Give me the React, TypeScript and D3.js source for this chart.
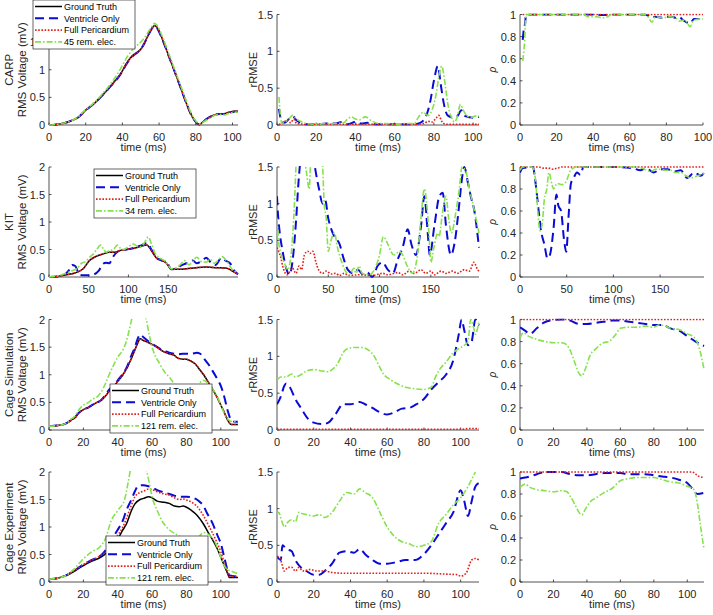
import React from "react";
import * as d3 from "d3";

type Pt = [number, number];

// ---------- Row 1: CARP ----------
const carpRmsGT: Pt[] = [[0,0],[3,0.005],[6,0.02],[10,0.05],[13,0.09],[16,0.14],[18,0.2],[20,0.27],[22,0.32],[25,0.4],[28,0.5],[30,0.57],[33,0.68],[36,0.8],[38,0.88],[40,0.98],[42,1.1],[44,1.2],[46,1.27],[48,1.31],[50,1.37],[52,1.48],[54,1.62],[56,1.75],[57.5,1.8],[59,1.76],[61,1.62],[63,1.45],[65,1.27],[67,1.1],[69,0.92],[71,0.74],[73,0.56],[75,0.38],[77,0.22],[79,0.1],[81,0.02],[82,0.01],[84,0.06],[86,0.11],[88,0.15],[90,0.18],[93,0.2],[95,0.2],[98,0.23],[101,0.25],[103,0.25]];
const carpRmsVO: Pt[] = [[0,0],[3,0.005],[6,0.02],[10,0.05],[13,0.09],[16,0.14],[18,0.2],[20,0.27],[22,0.32],[25,0.4],[28,0.5],[30,0.57],[33,0.68],[36,0.79],[38,0.87],[40,0.97],[42,1.09],[44,1.19],[46,1.26],[48,1.31],[50,1.37],[52,1.48],[54,1.62],[56,1.74],[57.5,1.79],[59,1.75],[61,1.61],[63,1.45],[65,1.27],[67,1.1],[69,0.92],[71,0.74],[73,0.56],[75,0.38],[77,0.22],[79,0.1],[81,0.02],[82,0.01],[84,0.06],[86,0.11],[88,0.15],[90,0.18],[93,0.2],[95,0.2],[98,0.22],[101,0.24],[103,0.24]];
const carpRmsFP: Pt[] = [[0,0],[3,0.005],[6,0.02],[10,0.05],[13,0.09],[16,0.14],[18,0.2],[20,0.27],[22,0.32],[25,0.4],[28,0.5],[30,0.57],[33,0.68],[36,0.8],[38,0.88],[40,0.98],[42,1.1],[44,1.2],[46,1.27],[48,1.31],[50,1.37],[52,1.48],[54,1.62],[56,1.75],[57.5,1.8],[59,1.76],[61,1.62],[63,1.45],[65,1.27],[67,1.1],[69,0.92],[71,0.74],[73,0.56],[75,0.38],[77,0.22],[79,0.1],[81,0.02],[82,0.01],[84,0.06],[86,0.11],[88,0.15],[90,0.18],[93,0.2],[95,0.2],[98,0.23],[101,0.25],[103,0.25]];
const carpRmsRem: Pt[] = [[0,0],[3,0.005],[6,0.02],[10,0.05],[13,0.09],[16,0.15],[18,0.22],[20,0.28],[22,0.33],[25,0.42],[28,0.52],[30,0.6],[33,0.72],[36,0.86],[38,0.96],[40,1.08],[42,1.2],[44,1.3],[46,1.38],[48,1.44],[50,1.5],[52,1.58],[54,1.68],[56,1.78],[57.5,1.84],[59,1.8],[61,1.66],[63,1.5],[65,1.32],[67,1.14],[69,0.96],[71,0.78],[73,0.6],[75,0.42],[77,0.25],[79,0.12],[81,0.04],[82,0.02],[84,0.05],[86,0.09],[88,0.13],[90,0.17],[93,0.19],[95,0.18],[98,0.21],[101,0.23],[103,0.23]];

const carpRmseVO: Pt[] = [[1,0.22],[2.5,0.04],[4,0.03],[6,0.08],[8,0.12],[10,0.06],[12,0.03],[15,0.01],[20,0.01],[25,0.02],[30,0.02],[33,0.04],[36,0.01],[40,0.04],[43,0.02],[46,0.03],[50,0.01],[60,0.01],[70,0.01],[73,0.03],[76,0.12],[78,0.3],[80,0.6],[82,0.8],[83.5,0.55],[85,0.3],[87,0.13],[90,0.1],[92,0.12],[94,0.2],[96,0.12],[100,0.1],[103,0.11]];
const carpRmseFP: Pt[] = [[1,0.01],[3,0.02],[5,0.07],[7,0.03],[8.5,0.08],[10,0.02],[15,0.01],[30,0.01],[50,0.01],[70,0.01],[75,0.02],[77,0.05],[79,0.04],[81,0.09],[82.5,0.13],[84,0.05],[86,0.01],[100,0.01],[103,0.01]];
const carpRmseRem: Pt[] = [[1,0.38],[2.5,0.02],[4,0.04],[6,0.08],[8,0.13],[10,0.08],[12,0.05],[15,0.02],[20,0.01],[25,0.02],[30,0.02],[34,0.03],[36,0.08],[38,0.11],[40,0.08],[42,0.07],[45,0.11],[48,0.06],[52,0.02],[56,0.02],[60,0.01],[65,0.02],[70,0.02],[72,0.1],[74.5,0.17],[77,0.13],[79,0.2],[81,0.4],[82.5,0.65],[84,0.8],[85.5,0.6],[87,0.3],[89,0.1],[90.5,0.04],[92,0.12],[93.5,0.28],[95,0.2],[97,0.12],[99,0.1],[101,0.12],[103,0.12]];

const carpRhoVO: Pt[] = [[1.5,0.77],[2.2,0.88],[2.8,0.92],[3.3,1],[35,1],[40,1],[45,0.995],[50,1],[68,1],[70,0.99],[72,0.97],[74,0.98],[78,0.97],[80,0.98],[83,0.98],[85,0.97],[87,0.98],[89,0.95],[91,0.93],[93,0.92],[95,0.96],[100,0.96]];
const carpRhoFP: Pt[] = [[1.5,1],[50,1],[100,1]];
const carpRhoRem: Pt[] = [[1.5,0.58],[2.5,0.75],[3.3,1],[35,1],[37,0.98],[42,0.98],[45,0.97],[48,0.98],[50,1],[68,1],[70,0.98],[72,0.93],[74,0.98],[78,0.97],[82,0.98],[85,0.97],[87,0.94],[90,0.95],[93,0.89],[95,0.95],[100,0.96]];

// ---------- Row 2: KIT ----------
const kitRmsGT: Pt[] = [[0,0],[11,0.01],[22,0.04],[34,0.08],[43,0.15],[51,0.3],[60,0.38],[68,0.42],[76,0.45],[83,0.45],[89,0.48],[97,0.5],[106,0.52],[114,0.55],[123,0.58],[129,0.48],[135,0.35],[142,0.3],[148,0.25],[154,0.14],[165,0.14],[173,0.15],[186,0.17],[198,0.18],[211,0.17],[224,0.16],[232,0.1],[238,0.05]];
const kitRmsVO: Pt[] = [[0,0],[11,0.01],[20,0.05],[25,0.12],[29,0.22],[33,0.2],[37,0.08],[42,0.03],[50,0.03],[57,0.05],[63,0.12],[68,0.24],[72,0.26],[76,0.25],[80,0.35],[84,0.43],[89,0.48],[97,0.5],[104,0.52],[110,0.55],[117,0.58],[123,0.62],[129,0.5],[135,0.35],[142,0.3],[148,0.28],[154,0.14],[160,0.16],[165,0.2],[173,0.25],[181,0.3],[186,0.25],[193,0.3],[198,0.35],[204,0.26],[210,0.22],[217,0.35],[222,0.3],[228,0.25],[233,0.12],[238,0.05]];
const kitRmsFP: Pt[] = [[0,0],[11,0.01],[22,0.04],[34,0.08],[43,0.15],[51,0.3],[60,0.38],[68,0.42],[76,0.45],[83,0.45],[89,0.48],[97,0.5],[106,0.52],[114,0.55],[123,0.58],[129,0.48],[135,0.35],[142,0.3],[148,0.25],[154,0.14],[165,0.14],[173,0.15],[186,0.17],[198,0.18],[211,0.17],[224,0.16],[232,0.1],[238,0.05]];
const kitRmsRem: Pt[] = [[0,0],[11,0.02],[22,0.07],[30,0.12],[35,0.15],[41,0.25],[46,0.28],[51,0.36],[56,0.42],[60,0.5],[65,0.58],[69,0.5],[72,0.45],[76,0.48],[81,0.5],[86,0.58],[90,0.52],[94,0.5],[100,0.55],[106,0.6],[110,0.57],[115,0.55],[120,0.62],[125,0.73],[129,0.6],[133,0.45],[139,0.35],[145,0.3],[150,0.22],[154,0.15],[160,0.17],[165,0.22],[171,0.3],[176,0.22],[181,0.28],[186,0.36],[192,0.28],[198,0.27],[203,0.32],[208,0.25],[213,0.3],[218,0.37],[224,0.28],[230,0.15],[238,0.08]];

const kitRmseVO: Pt[] = [[0,1.1],[1,0.85],[2.3,0.65],[5.5,0.35],[9,0.12],[12,0.03],[15,0.2],[18.5,0.75],[21,1.3],[22.5,1.55],[25,1.8],[30,1.9],[35,1.7],[37,1.5],[41,1.2],[44.5,1.0],[47,1.05],[50,0.8],[53,0.65],[56,0.55],[61,0.45],[65,0.25],[69,0.1],[74,0.05],[79,0.1],[83.5,0.04],[88,0.06],[93,0.0],[98,0.15],[103,0.2],[108,0.1],[113,0.05],[118,0.25],[122.5,0.4],[127.5,0.65],[131,0.45],[135.5,0.3],[140.5,0.7],[143.7,1.1],[147,0.6],[149,0.3],[153.5,0.7],[158.3,1.1],[161.6,1.15],[164.8,0.7],[169.7,0.3],[173,0.45],[177.8,1.0],[180,1.3],[182.7,1.5],[186,1.3],[189,1.1],[192.5,0.9],[197,0.4]];
const kitRmseFP: Pt[] = [[0,0.4],[1.5,0.35],[4,0.25],[5.5,0.15],[10,0.03],[15,0.12],[18.5,0.05],[21.5,0.15],[24,0.1],[26.7,0.3],[30,0.35],[32,0.32],[35,0.35],[38,0.2],[40.5,0.1],[44.5,0.05],[48,0.08],[53,0.04],[57,0.05],[61,0.02],[65.5,0.05],[70,0.02],[80,0.03],[93,0.02],[103,0.05],[108,0.03],[118,0.06],[122.5,0.03],[129,0.08],[134,0.05],[140.5,0.1],[145,0.05],[150,0.08],[153.5,0.03],[160,0.08],[165,0.05],[171,0.08],[176,0.05],[182.7,0.1],[187.6,0.08],[192,0.2],[195.7,0.1],[197,0.08]];
const kitRmseRem: Pt[] = [[0,0.8],[1.5,0.5],[4,0.3],[7,0.2],[10.4,0.1],[13.7,0.3],[17,1.0],[18.5,1.5],[20,1.8],[24,1.9],[27,1.6],[29,1.4],[31.5,1.2],[32.5,1.5],[35,1.8],[40,1.9],[44.5,1.5],[46,1.0],[48,0.8],[50,0.35],[52.7,0.5],[56,0.6],[59,0.4],[62,0.25],[66,0.1],[70.5,0.03],[75,0.12],[77,0.05],[80,0.15],[83,0.05],[90,0.03],[95,0.1],[100,0.3],[103.7,0.55],[108,0.45],[111,0.35],[114.4,0.3],[119.3,0.35],[122.6,0.3],[127,0.15],[132,0.05],[137,0.3],[140.4,0.8],[143.7,1.2],[146,1.0],[148.6,0.5],[150,0.2],[153,0.4],[156.7,0.6],[158,0.55],[161.6,0.9],[164.8,1.1],[167.4,0.8],[170,0.6],[174.6,0.9],[177.8,1.2],[180.4,1.5],[184,1.45],[187.6,1.2],[191,1.0],[194,0.8],[197,0.6]];

const kitRhoVO: Pt[] = [[0,0.95],[3,0.99],[14,1],[16,0.9],[20,0.6],[23,0.4],[26,0.3],[29.4,0.17],[32,0.2],[36,0.45],[39,0.75],[41,0.65],[44,0.6],[47,0.35],[49.5,0.23],[52,0.55],[54.5,0.85],[57.4,0.9],[61,0.95],[64.6,0.93],[68,1],[100,1],[120,0.99],[129,0.97],[135,0.99],[143,0.95],[150.7,0.98],[158,0.98],[165,0.96],[172,0.97],[179,0.9],[186.6,0.95],[193.7,0.92],[197,0.95]];
const kitRhoFP: Pt[] = [[0,1],[20,1],[25,0.99],[30,0.99],[35,0.98],[40,0.99],[45,1],[197,1]];
const kitRhoRem: Pt[] = [[0,0.97],[3,1],[13,1],[14.4,0.98],[17,0.85],[19,0.6],[21.5,0.42],[24,0.5],[26,0.7],[28.7,0.8],[31,0.95],[34,0.85],[36,0.8],[39.5,0.85],[45,0.84],[49.5,0.87],[54,0.97],[57,0.99],[60,1],[125,1],[130,0.99],[140,0.96],[145,0.98],[150.7,0.98],[155,0.97],[161.5,0.97],[166,0.95],[172,0.95],[178,0.92],[183,0.9],[190,0.92],[197,0.94]];

// ---------- Row 3: Cage Simulation ----------
const simRmsGT: Pt[] = [[0,0.07],[5,0.08],[10,0.12],[13,0.18],[15,0.22],[17,0.3],[20,0.37],[23,0.41],[25,0.45],[28,0.5],[30,0.53],[33,0.62],[35,0.7],[38,0.8],[40,0.88],[43,1.0],[45,1.1],[48,1.3],[50,1.45],[52,1.6],[53,1.65],[55,1.62],[58,1.58],[60,1.55],[63,1.5],[65,1.45],[68,1.4],[70,1.38],[73,1.35],[75,1.3],[78,1.28],[80,1.28],[83,1.24],[85,1.2],[88,1.08],[90,1.0],[93,0.85],[95,0.75],[98,0.58],[100,0.45],[102,0.32],[104,0.18],[106,0.1],[110,0.1]];
const simRmsVO: Pt[] = [[0,0.07],[5,0.08],[10,0.12],[13,0.18],[15,0.22],[17,0.3],[20,0.37],[23,0.41],[25,0.45],[28,0.5],[30,0.53],[33,0.64],[35,0.73],[38,0.82],[40,0.9],[43,1.02],[45,1.12],[48,1.35],[50,1.5],[52,1.68],[53,1.73],[55,1.68],[58,1.6],[60,1.56],[63,1.5],[65,1.46],[68,1.42],[70,1.4],[73,1.38],[75,1.37],[78,1.38],[80,1.38],[83,1.38],[86,1.4],[88,1.38],[90,1.3],[93,1.18],[95,1.08],[98,0.92],[100,0.8],[102,0.6],[104,0.35],[106,0.18],[108,0.15],[110,0.15]];
const simRmsFP: Pt[] = [[0,0.07],[5,0.08],[10,0.12],[13,0.18],[15,0.22],[17,0.3],[20,0.37],[23,0.41],[25,0.45],[28,0.5],[30,0.53],[33,0.62],[35,0.7],[38,0.8],[40,0.88],[43,1.0],[45,1.1],[48,1.3],[50,1.45],[52,1.6],[53,1.65],[55,1.62],[58,1.58],[60,1.55],[63,1.5],[65,1.45],[68,1.4],[70,1.38],[73,1.35],[75,1.3],[78,1.28],[80,1.28],[83,1.24],[85,1.2],[88,1.08],[90,1.0],[93,0.85],[95,0.75],[98,0.58],[100,0.45],[102,0.32],[104,0.18],[106,0.1],[110,0.1]];
const simRmsRem: Pt[] = [[0,0.07],[5,0.08],[10,0.12],[13,0.2],[15,0.25],[17,0.35],[20,0.45],[23,0.5],[25,0.55],[28,0.6],[30,0.67],[33,0.85],[35,1.0],[38,1.2],[40,1.32],[43,1.45],[45,1.6],[47,1.85],[48.5,2.05],[52,2.4],[55,2.2],[56.6,2.0],[58.5,1.7],[60.5,1.45],[64.4,1.2],[67.3,1.05],[70.2,0.95],[74,0.8],[78,0.72],[82,0.65],[85,0.7],[87.7,0.85],[89.6,0.9],[92.5,0.85],[95,0.75],[98,0.6],[100,0.45],[102,0.3],[104,0.2],[107,0.15],[110,0.15]];

const simRmseVO: Pt[] = [[0,0.35],[2,0.45],[4,0.6],[5,0.63],[7,0.58],[10,0.42],[13,0.3],[17,0.15],[20,0.1],[25,0.08],[28,0.1],[32,0.22],[36,0.35],[40,0.35],[45,0.38],[48,0.35],[52,0.3],[56,0.24],[60,0.21],[64,0.24],[68,0.29],[72,0.3],[76,0.35],[80,0.42],[84,0.55],[88,0.65],[92,0.75],[96,0.95],[99,1.3],[100.5,1.5],[102,1.35],[104,1.15],[106,1.2],[108,1.5],[110,1.42]];
const simRmseFP: Pt[] = [[0,0.01],[50,0.01],[100,0.01],[105,0.02],[110,0.02]];
const simRmseRem: Pt[] = [[0,0.68],[2,0.72],[5,0.72],[8,0.76],[10,0.72],[13,0.75],[16,0.8],[20,0.82],[25,0.8],[28,0.79],[30,0.82],[33,0.9],[36,1.05],[38,1.1],[42,1.12],[46,1.12],[50,1.08],[53,1.0],[55,0.9],[58,0.76],[62,0.68],[66,0.62],[70,0.58],[75,0.56],[80,0.55],[84,0.58],[86,0.7],[88,0.8],[92,0.92],[96,1.05],[100,1.12],[102,1.15],[104,1.2],[105.5,1.5],[107,1.4],[108,1.3],[110,1.48]];

const simRhoVO: Pt[] = [[0,0.93],[3,0.9],[6,0.87],[10,0.92],[14,0.97],[18,0.99],[25,1.0],[30,0.99],[35,0.96],[40,0.96],[45,0.97],[50,0.98],[55,0.99],[60,0.99],[65,0.98],[70,0.97],[75,0.96],[80,0.95],[85,0.95],[90,0.92],[95,0.9],[100,0.85],[105,0.8],[110,0.76]];
const simRhoFP: Pt[] = [[0,1],[55,1],[110,1]];
const simRhoRem: Pt[] = [[0,0.83],[2,0.88],[5,0.85],[10,0.82],[15,0.8],[20,0.79],[25,0.79],[28,0.77],[30,0.72],[33,0.6],[35,0.52],[37,0.49],[39,0.55],[42,0.68],[45,0.73],[50,0.79],[53,0.8],[57,0.86],[60,0.92],[65,0.93],[70,0.93],[75,0.94],[80,0.93],[83,0.95],[87,0.94],[90,0.92],[95,0.91],[100,0.87],[104,0.84],[107,0.75],[110,0.55]];

// ---------- Row 4: Cage Experiment ----------
const expRmsGT: Pt[] = [[0,0.05],[5,0.07],[10,0.12],[15,0.2],[20,0.3],[25,0.38],[30,0.45],[33,0.52],[35,0.6],[38,0.7],[40,0.78],[43,0.95],[45,1.05],[48,1.3],[50,1.42],[53,1.5],[55,1.52],[58,1.55],[60,1.53],[63,1.47],[67,1.45],[70,1.43],[73,1.38],[76,1.37],[78,1.38],[80,1.36],[83,1.3],[86,1.22],[90,1.05],[93,0.88],[95,0.78],[98,0.6],[100,0.45],[102,0.3],[104,0.15],[105,0.08],[110,0.08]];
const expRmsVO: Pt[] = [[0,0.05],[5,0.07],[10,0.12],[15,0.21],[20,0.32],[25,0.4],[30,0.48],[33,0.58],[35,0.7],[38,0.85],[40,0.95],[43,1.12],[45,1.3],[48,1.5],[50,1.65],[52,1.75],[55,1.76],[58,1.74],[60,1.72],[63,1.67],[67,1.63],[70,1.6],[73,1.57],[76,1.55],[80,1.55],[83,1.54],[86,1.5],[88,1.45],[90,1.38],[92,1.25],[95,1.08],[98,0.85],[100,0.7],[102,0.45],[104,0.2],[105,0.12],[110,0.1]];
const expRmsFP: Pt[] = [[0,0.05],[5,0.07],[10,0.12],[15,0.21],[20,0.32],[25,0.4],[30,0.48],[33,0.55],[35,0.63],[38,0.75],[40,0.85],[43,1.0],[45,1.15],[48,1.4],[50,1.55],[53,1.63],[55,1.65],[58,1.69],[60,1.68],[63,1.64],[67,1.6],[70,1.58],[73,1.53],[76,1.5],[78,1.51],[80,1.49],[83,1.45],[86,1.38],[90,1.2],[93,1.02],[95,0.9],[98,0.7],[100,0.55],[102,0.35],[104,0.18],[105,0.1],[110,0.1]];
const expRmsRem: Pt[] = [[0,0.05],[5,0.07],[10,0.12],[15,0.25],[20,0.42],[25,0.55],[30,0.65],[33,0.8],[36,1.1],[40,1.3],[44,1.5],[46,1.8],[47.5,2.05],[52,2.4],[56,2.1],[57,2.0],[59,1.7],[60,1.55],[63,1.3],[66,1.1],[70,0.95],[75,0.85],[80,0.75],[85,0.72],[88,0.85],[90,0.9],[93,0.86],[95,0.8],[97,0.7],[100,0.45],[103,0.25],[106,0.2],[110,0.15]];

const expRmseVO: Pt[] = [[0,0.35],[2,0.3],[3,0.5],[5,0.45],[8,0.42],[10,0.3],[13,0.2],[16,0.15],[20,0.1],[23,0.1],[26,0.15],[30,0.25],[34,0.4],[38,0.42],[42,0.4],[45,0.45],[48,0.38],[52,0.3],[56,0.25],[60,0.25],[65,0.27],[70,0.3],[75,0.3],[80,0.38],[84,0.5],[88,0.65],[92,0.8],[96,0.95],[100,1.25],[102,1.1],[104,0.9],[106,1.1],[108,1.3],[110,1.35]];
const expRmseFP: Pt[] = [[0,0.35],[2,0.3],[4,0.15],[6,0.2],[8,0.2],[10,0.15],[12,0.2],[14,0.15],[18,0.17],[22,0.15],[26,0.15],[30,0.13],[35,0.12],[40,0.12],[50,0.12],[60,0.12],[70,0.12],[80,0.12],[90,0.11],[98,0.1],[100,0.08],[103,0.12],[106,0.3],[108,0.32],[110,0.3]];
const expRmseRem: Pt[] = [[0,0.92],[1,0.95],[2,0.88],[3,0.8],[4,0.75],[6,0.82],[8,0.85],[10,0.82],[12,0.95],[14,0.93],[16,0.92],[20,0.9],[23,0.92],[26,0.88],[30,0.95],[34,1.1],[38,1.22],[42,1.2],[45,1.27],[48,1.22],[52,1.15],[56,0.95],[60,0.75],[64,0.62],[68,0.55],[72,0.52],[76,0.48],[80,0.5],[84,0.55],[88,0.8],[92,0.92],[96,1.05],[100,1.15],[104,1.3],[107,1.45],[108,1.5]];

const expRhoVO: Pt[] = [[0,0.94],[3,0.95],[6,0.96],[10,0.98],[15,1.0],[20,1.0],[25,1.0],[30,0.98],[35,0.97],[40,0.97],[45,0.98],[50,0.99],[55,0.99],[60,0.99],[65,0.98],[70,0.98],[75,0.98],[80,0.97],[85,0.96],[90,0.95],[95,0.93],[100,0.9],[103,0.85],[106,0.8],[110,0.81]];
const expRhoFP: Pt[] = [[0,1],[50,1],[103,1],[105,0.98],[107,0.96],[110,0.95]];
const expRhoRem: Pt[] = [[0,0.86],[3,0.89],[6,0.86],[10,0.84],[15,0.83],[20,0.82],[25,0.83],[28,0.82],[30,0.78],[33,0.7],[35,0.64],[37,0.61],[39,0.66],[42,0.73],[45,0.76],[50,0.81],[55,0.85],[60,0.92],[65,0.94],[70,0.95],[75,0.95],[80,0.95],[85,0.93],[90,0.91],[95,0.9],[100,0.87],[104,0.84],[106,0.72],[108,0.5],[110,0.3]];

// ---------- labels / ticks ----------
const rowNames = ["CARP", "KIT", "Cage Simulation", "Cage Experiment"];
const remNames = ["45 rem. elec.", "34 rem. elec.", "121 rem. elec.", "121 rem. elec."];
const legendNames = ["Ground Truth", "Ventricle Only", "Full Pericardium"];
const rmsTicks = [0, 0.5, 1, 1.5, 2];
const rmseTicks = [0, 0.5, 1, 1.5];
const rhoTicks = [0, 0.2, 0.4, 0.6, 0.8, 1];
const xTicks100 = [0, 20, 40, 60, 80, 100];
const xTicksKit = [0, 50, 100, 150];

// ---------- layout ----------
const COLX = [[49, 238], [277, 479], [520, 704]];
const ROWY = [[14.5, 125], [167, 277], [319.5, 430], [472, 582]];
const LEGEND_POS = [[33, 0], [94, 169], [110, 384], [106, 536]];
const FONT = "'Liberation Sans', Arial, Helvetica, sans-serif";
const AX = "#262626";

type Style = { color: string; width: number; dash: string | null };
const STYLES: Style[] = [
  { color: "#000000", width: 1.5, dash: null },
  { color: "#0b0bd6", width: 2, dash: "9,5" },
  { color: "#e3201b", width: 1.6, dash: "1.6,1.6" },
  { color: "#86e24c", width: 1.6, dash: "6,2,1.6,2" },
];

type PanelSpec = {
  row: number; col: number; xd: [number, number]; yd: [number, number];
  xt: number[]; yt: number[]; series: (Pt[] | null)[]; x1?: number;
};

const panels: PanelSpec[] = [
  { row: 0, col: 0, xd: [0, 103], yd: [0, 2], xt: xTicks100, yt: rmsTicks, series: [carpRmsGT, carpRmsVO, carpRmsFP, carpRmsRem] },
  { row: 0, col: 1, xd: [0, 103], yd: [0, 1.5], xt: xTicks100, yt: rmseTicks, series: [null, carpRmseVO, carpRmseFP, carpRmseRem] },
  { row: 0, col: 2, xd: [0, 100], yd: [0, 1], xt: xTicks100, yt: rhoTicks, series: [null, carpRhoVO, carpRhoFP, carpRhoRem], x1: 703 },
  { row: 1, col: 0, xd: [0, 238], yd: [0, 2], xt: xTicksKit, yt: rmsTicks, series: [kitRmsGT, kitRmsVO, kitRmsFP, kitRmsRem] },
  { row: 1, col: 1, xd: [0, 197], yd: [0, 1.5], xt: xTicksKit, yt: rmseTicks, series: [null, kitRmseVO, kitRmseFP, kitRmseRem] },
  { row: 1, col: 2, xd: [0, 197], yd: [0, 1], xt: xTicksKit, yt: rhoTicks, series: [null, kitRhoVO, kitRhoFP, kitRhoRem] },
  { row: 2, col: 0, xd: [0, 110], yd: [0, 2], xt: xTicks100, yt: rmsTicks, series: [simRmsGT, simRmsVO, simRmsFP, simRmsRem] },
  { row: 2, col: 1, xd: [0, 110], yd: [0, 1.5], xt: xTicks100, yt: rmseTicks, series: [null, simRmseVO, simRmseFP, simRmseRem] },
  { row: 2, col: 2, xd: [0, 110], yd: [0, 1], xt: xTicks100, yt: rhoTicks, series: [null, simRhoVO, simRhoFP, simRhoRem] },
  { row: 3, col: 0, xd: [0, 110], yd: [0, 2], xt: xTicks100, yt: rmsTicks, series: [expRmsGT, expRmsVO, expRmsFP, expRmsRem] },
  { row: 3, col: 1, xd: [0, 110], yd: [0, 1.5], xt: xTicks100, yt: rmseTicks, series: [null, expRmseVO, expRmseFP, expRmseRem] },
  { row: 3, col: 2, xd: [0, 110], yd: [0, 1], xt: xTicks100, yt: rhoTicks, series: [null, expRhoVO, expRhoFP, expRhoRem] },
];

function Panel({ p, idx }: { p: PanelSpec; idx: number }) {
  const x0 = COLX[p.col][0];
  const x1 = p.x1 ?? COLX[p.col][1];
  const [y0, y1] = ROWY[p.row];
  const x = d3.scaleLinear().domain(p.xd).range([x0, x1]);
  const y = d3.scaleLinear().domain(p.yd).range([y1, y0]);
  const line = d3.line<Pt>().x((d) => x(d[0])).y((d) => y(d[1])).curve(d3.curveMonotoneX);
  const clipId = `clip-${idx}`;
  const fmt = (v: number) => String(v);
  const cx = (x0 + x1) / 2;
  const cy = (y0 + y1) / 2;
  return (
    <g>
      <defs>
        <clipPath id={clipId}>
          <rect x={x0} y={y0 - 1} width={x1 - x0 + 1} height={y1 - y0 + 2} />
        </clipPath>
      </defs>
      <line x1={x0} x2={x1} y1={y1} y2={y1} stroke={AX} strokeWidth={0.8} />
      <line x1={x0} x2={x0} y1={y0} y2={y1} stroke={AX} strokeWidth={0.8} />
      {p.xt.map((t) => (
        <g key={"xt" + t}>
          <line x1={x(t)} x2={x(t)} y1={y1} y2={y1 - 2.5} stroke={AX} strokeWidth={0.8} />
          <text x={x(t)} y={y1 + 15.5} textAnchor="middle" fontSize={11} fill={AX} fontFamily={FONT}>{fmt(t)}</text>
        </g>
      ))}
      {p.yt.map((t) => (
        <g key={"yt" + t}>
          <line x1={x0} x2={x0 + 2.5} y1={y(t)} y2={y(t)} stroke={AX} strokeWidth={0.8} />
          <text x={x0 - 4} y={y(t) + 4} textAnchor="end" fontSize={11} fill={AX} fontFamily={FONT}>{fmt(t)}</text>
        </g>
      ))}
      <text x={cx} y={y1 + 26} textAnchor="middle" fontSize={11} fill={AX} fontFamily={FONT}>time (ms)</text>
      {p.col === 0 && (
        <text transform={`translate(${x0 - 36},${cy}) rotate(-90)`} textAnchor="middle" fontSize={11.5} fill={AX} fontFamily={FONT}>
          <tspan x={0} dy={0}>{rowNames[p.row]}</tspan>
          <tspan x={0} dy={12.8}>RMS Voltage (mV)</tspan>
        </text>
      )}
      {p.col === 1 && (
        <text transform={`translate(${x0 - 20},${cy}) rotate(-90)`} textAnchor="middle" fontSize={11} fill={AX} fontFamily={FONT}>rRMSE</text>
      )}
      {p.col === 2 && (
        <text transform={`translate(${x0 - 24},${cy}) rotate(-90)`} textAnchor="middle" fontSize={10} fontStyle="italic" fill={AX} fontFamily={FONT}>ρ</text>
      )}
      <g clipPath={`url(#${clipId})`}>
        {p.series.map((s, i) =>
          s ? (
            <path key={i} d={line(s) ?? ""} fill="none" stroke={STYLES[i].color} strokeWidth={STYLES[i].width}
              strokeDasharray={STYLES[i].dash ?? undefined} strokeLinejoin="round" />
          ) : null
        )}
      </g>
    </g>
  );
}

function Legend({ row }: { row: number }) {
  const [lx, ly] = LEGEND_POS[row];
  const names = [...legendNames, remNames[row]];
  const w = 102;
  const h = 49;
  return (
    <g>
      <rect x={lx} y={ly} width={w} height={h} fill="#ffffff" stroke={AX} strokeWidth={0.7} />
      {names.map((n, i) => {
        const yy = ly + 6.5 + i * 11.8;
        return (
          <g key={n}>
            <line x1={lx + 2} x2={lx + 29} y1={yy} y2={yy} stroke={STYLES[i].color} strokeWidth={STYLES[i].width}
              strokeDasharray={STYLES[i].dash ?? undefined} />
            <text x={lx + 31} y={yy + 3.2} fontSize={9} fill="#000" fontFamily={FONT}>{n}</text>
          </g>
        );
      })}
    </g>
  );
}

export default function App() {
  return (
    <svg width={713} height={615} viewBox="0 0 713 615" style={{ position: "absolute", left: 0, top: 0, background: "#fff" }}>
      <rect x={0} y={0} width={713} height={615} fill="#fff" />
      {panels.map((p, i) => (
        <Panel key={i} p={p} idx={i} />
      ))}
      {[0, 1, 2, 3].map((r) => (
        <Legend key={r} row={r} />
      ))}
    </svg>
  );
}
